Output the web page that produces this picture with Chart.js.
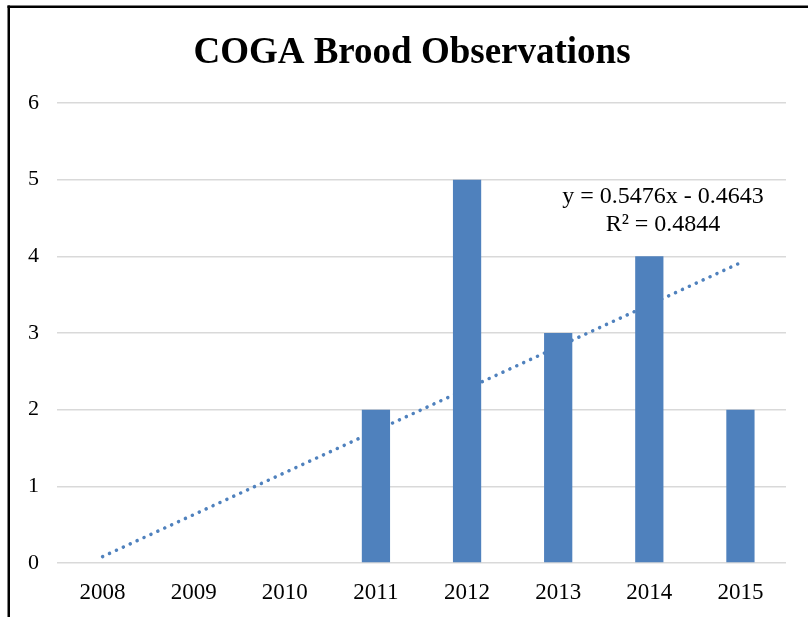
<!DOCTYPE html>
<html>
<head>
<meta charset="utf-8">
<title>COGA Brood Observations</title>
<script src="https://cdn.jsdelivr.net/npm/chart.js@4/dist/chart.umd.min.js"></script>
<style>
  html, body { margin: 0; padding: 0; background: #fff; }
  #wrap { width: 808px; height: 617px; position: relative; }
</style>
</head>
<body>
<div id="wrap"><canvas id="chart" width="808" height="617"></canvas></div>
<script>
// Yearly brood observations
const years = ['2008', '2009', '2010', '2011', '2012', '2013', '2014', '2015'];
const broods = [0, 0, 0, 2, 5, 3, 4, 2];

// Linear trend (x = 1 for the first year)
const trendSlope = 0.5476;
const trendIntercept = -0.4643;
const trendR2 = 0.4844;
const trendValues = years.map((_, i) => trendSlope * (i + 1) + trendIntercept);

const yTicks = [0, 1, 2, 3, 4, 5, 6];

const chartTitle = 'COGA Brood Observations';

const SERIF = '"Liberation Serif", "Times New Roman", Times, serif';
const BLUE = '#4F81BD';

// Frame along the top and left edges, the title, and the trendline equation
const decorations = {
  id: 'decorations',
  afterDraw(chart) {
    const ctx = chart.ctx;
    ctx.save();
    ctx.fillStyle = '#000';
    ctx.fillRect(7.5, 5.5, 808, 2.5);
    ctx.fillRect(7.5, 5.5, 2.5, 617);

    ctx.textAlign = 'center';
    ctx.textBaseline = 'middle';
    ctx.font = 'bold 37px ' + SERIF;
    ctx.fillText(chartTitle, 412, 53);

    ctx.font = '24px ' + SERIF;
    const fmt = (v) => v.toFixed(4);
    const sign = trendIntercept < 0 ? ' - ' : ' + ';
    ctx.fillText('y = ' + fmt(trendSlope) + 'x' + sign + fmt(Math.abs(trendIntercept)), 663, 197);
    ctx.fillText('R\u00B2 = ' + fmt(trendR2), 663, 225);
    ctx.restore();
  }
};

new Chart(document.getElementById('chart'), {
  type: 'bar',
  data: {
    labels: years,
    datasets: [
      {
        label: 'Broods',
        data: broods,
        backgroundColor: BLUE,
        borderWidth: 0,
        barPercentage: 0.31,
        categoryPercentage: 1.0,
        order: 0
      },
      {
        type: 'line',
        label: 'Linear (Broods)',
        data: trendValues,
        borderColor: BLUE,
        borderWidth: 3.5,
        borderDash: [0.1, 7.5],
        borderCapStyle: 'round',
        pointRadius: 0,
        fill: false,
        tension: 0,
        order: 1
      }
    ]
  },
  options: {
    responsive: false,
    animation: false,
    layout: { padding: { left: 0, right: 22, top: 103, bottom: 0 } },
    plugins: {
      legend: { display: false },
      tooltip: { enabled: false },
      title: { display: false }
    },
    scales: {
      x: {
        grid: { display: false },
        border: { display: false },
        ticks: {
          color: '#000',
          font: { family: SERIF, size: 23 },
          padding: 8,
          maxRotation: 0
        },
        afterFit(scale) { scale.height = 54; }
      },
      y: {
        min: 0,
        max: 6,
        afterBuildTicks(scale) { scale.ticks = yTicks.map(v => ({ value: v })); },
        grid: { color: '#d9d9d9', lineWidth: 1.5, drawTicks: false },
        border: { display: false },
        ticks: {
          color: '#000',
          font: { family: SERIF, size: 22 },
          padding: 18
        },
        afterFit(scale) { scale.width = 57; }
      }
    }
  },
  plugins: [decorations]
});
</script>
</body>
</html>
